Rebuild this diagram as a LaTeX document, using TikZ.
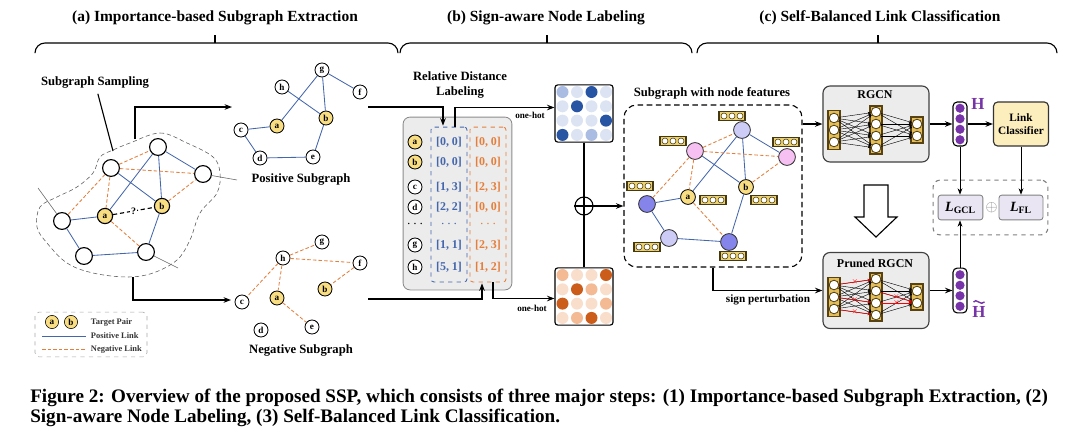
\documentclass[tikz,border=0pt]{standalone}
\usepackage{fontspec}
\setmainfont{Liberation Serif}
\usepackage{graphicx}
\usetikzlibrary{arrows.meta,positioning,calc}
\definecolor{poslink}{RGB}{68,102,172}
\definecolor{neglink}{RGB}{228,126,58}
\definecolor{tgtfill}{RGB}{249,221,130}
\definecolor{panelgray}{RGB}{236,236,236}
\definecolor{layerfill}{RGB}{228,190,88}
\definecolor{layerdraw}{RGB}{88,66,18}
\definecolor{barfill}{RGB}{236,210,110}
\definecolor{bardraw}{RGB}{70,56,16}
\definecolor{hpurple}{RGB}{118,52,168}
\definecolor{lossfill}{RGB}{233,229,243}
\definecolor{clsfill}{RGB}{253,238,190}
\definecolor{bm0}{RGB}{220,227,242}
\definecolor{bm1}{RGB}{170,188,226}
\definecolor{bm2}{RGB}{40,84,164}
\definecolor{om0}{RGB}{250,222,204}
\definecolor{om1}{RGB}{243,186,148}
\definecolor{om2}{RGB}{204,92,26}
\definecolor{ndlight}{RGB}{204,204,246}
\definecolor{ndmid}{RGB}{132,132,234}
\definecolor{ndpink}{RGB}{246,192,242}
\tikzset{fbar/.pic={
  \draw[draw=bardraw,fill=barfill,line width=0.9pt] (-13,-4.5) rectangle (13,4.5);
  \foreach \k in {-8,0,8} \draw[draw=bardraw,fill=white,line width=0.4pt] (\k,0) circle (0.075cm);}}

\begin{document}
\begin{tikzpicture}[x=0.025cm,y=-0.025cm,>={Stealth[scale=0.8]},
  every node/.style={font=\bfseries},
  lbl/.style={font=\bfseries\fontsize{9}{10}\selectfont},
  small/.style={font=\bfseries\fontsize{7}{8}\selectfont},
  gnode/.style={circle,draw,thick,fill=white,minimum size=0.42cm,inner sep=0pt},
  tnode/.style={gnode,minimum size=0.38cm,fill=tgtfill,font=\bfseries\fontsize{6.5}{7}\selectfont},
  snode/.style={circle,draw,semithick,fill=white,minimum size=0.35cm,inner sep=0pt,font=\bfseries\fontsize{6.5}{7}\selectfont},
  stnode/.style={snode,fill=tgtfill},
  fnode/.style={circle,draw=black!80,semithick,minimum size=0.42cm,inner sep=0pt},
  plink/.style={poslink,semithick},
  nlink/.style={neglink,semithick,dash pattern=on 2.5pt off 1.5pt},
  nbox/.style={draw=layerdraw,fill=layerfill,line width=0.9pt,minimum width=0.3cm,inner sep=0pt},
  neuron/.style={circle,draw=layerdraw,fill=white,semithick,minimum size=0.24cm,inner sep=0pt},
  nnlink/.style={-{Stealth[length=2.2pt,width=1.8pt]},line width=0.3pt},
  netbox/.style={draw=black!75,fill=panelgray,thick,rounded corners=5pt,minimum width=2.65cm,minimum height=1.9cm},
  vecbox/.style={draw,thick,fill=white,rounded corners=3pt,minimum width=0.35cm,inner sep=0pt},
  lossbox/.style={draw=gray,fill=lossfill,rounded corners=2pt,semithick,minimum width=1.12cm,minimum height=0.62cm,font=\bfseries\fontsize{10}{10}\selectfont}]
\useasboundingbox (0,0) rectangle (1080,442);

% titles and braces
\node[font=\bfseries\fontsize{11}{12}\selectfont] (tita) at (215,18) {(a) Importance-based Subgraph Extraction};
\node[font=\bfseries\fontsize{11}{12}\selectfont] (titb) at (546,18) {(b) Sign-aware Node Labeling};
\node[font=\bfseries\fontsize{11}{12}\selectfont] (titc) at (880,18) {(c) Self-Balanced Link Classification};
\foreach \xa/\xm/\xb in {35/215/398, 400/547/692, 697/878/1057}{
  \draw[thick,rounded corners=0.25cm] (\xa,53) |- (\xm,43) -| (\xb,53);
  \draw[thick] (\xm,43) -- (\xm,35); }

% (a) sampled graph
\draw[densely dashed,black!65,thin] plot[smooth cycle,tension=0.6] coordinates {(130,143) (160,133) (187,143) (213,157) (220,173) (217,193) (200,213) (190,240) (177,260) (153,273) (127,277) (93,273) (67,263) (47,243) (37,227) (40,207) (57,197) (77,187) (93,173) (100,157) (113,150)};
\node[gnode] (n1) at (158,147) {};
\node[gnode] (n2) at (111,168) {};
\node[gnode] (n3) at (203,174) {};
\node[gnode] (n4) at (62,221) {};
\node[gnode] (n5) at (84,256) {};
\node[gnode] (n6) at (146,252) {};
\node[tnode] (ta) at (105,216) {a};
\node[tnode] (tb) at (162,206) {b};
\coordinate (s1) at (38,188);
\coordinate (s2) at (237,180);
\coordinate (s3) at (178,268);
\draw[black!60] (n4) -- (s1) (n3) -- (s2) (n6) -- (s3);
\draw[plink] (n4) -- (ta) (ta) -- (n1) (n2) -- (tb) (n1) -- (tb) (n1) -- (n3) (tb) -- (n6) (n4) -- (n5) (n5) -- (n6);
\draw[nlink] (n2) -- (n1) (n2) -- (n3) (n2) -- (ta) (n2) -- (n4) (tb) -- (n3) (ta) -- (n6);
\draw[thick,dash pattern=on 3pt off 2pt] (ta) -- node[fill=white,inner sep=0.6pt,font=\bfseries\fontsize{7}{7}\selectfont] (q) {?} (tb);
\node[lbl] (samp) at (95,83) {Subgraph Sampling};
\coordinate (sampend) at (113,151);
\draw[thick] (samp) -- (sampend);
\coordinate (btop) at (135,139);
\coordinate (bbot) at (133,277);
\coordinate (pin0) at (232,107);
\coordinate (nin0) at (231,300);
\draw[->,thick] (btop) |- (pin0);
\draw[->,thick] (bbot) |- (nin0);

% positive subgraph
\node[snode] (pg) at (322,70) {g};
\node[snode] (ph) at (282,87) {h};
\node[snode] (pf) at (360,92) {f};
\node[stnode] (pb) at (326,118) {b};
\node[stnode] (pa) at (277,126) {a};
\node[snode] (pc) at (241,130) {c};
\node[snode] (pd) at (260,158) {d};
\node[snode] (pe) at (313,157) {e};
\draw[plink] (pg) -- (pa) (pg) -- (pb) (pg) -- (pf) (ph) -- (pb) (pc) -- (pa) (pc) -- (pd) (pd) -- (pe) (pe) -- (pb);
\node[lbl] (plab) at (301,180) {Positive Subgraph};

% negative subgraph
\node[snode] (ng) at (322,242) {g};
\node[snode] (nh) at (283,258) {h};
\node[snode] (nf) at (360,263) {f};
\node[stnode] (nb) at (325,289) {b};
\node[stnode] (na) at (277,298) {a};
\node[snode] (nc) at (242,302) {c};
\node[snode] (nd) at (261,330) {d};
\node[snode] (ne) at (312,327) {e};
\draw[nlink] (nh) -- (ng) (nh) -- (nf) (nh) -- (nc) (nh) -- (na) (na) -- (ne) (nf) -- (nb);
\node[lbl] (nlab) at (301,350) {Negative Subgraph};

% legend
\node[draw=black!35,dashed,rounded corners=3pt,minimum width=2.8cm,minimum height=1.12cm] (legend) at (91,334.5) {};
\node[tnode,minimum size=0.33cm,thin] (la) at (52,322) {a};
\node[tnode,minimum size=0.33cm,thin] (lb) at (71,322) {b};
\node[anchor=west,font=\bfseries\fontsize{6}{7}\selectfont,text=black!80] (lt1) at (86,322) {Target Pair};
\node[anchor=west,font=\bfseries\fontsize{6}{7}\selectfont,text=black!80] (lt2) at (86,336) {Positive Link};
\node[anchor=west,font=\bfseries\fontsize{6}{7}\selectfont,text=black!80] (lt3) at (86,349) {Negative Link};
\draw[plink] (42,336) -- (lt2.west);
\draw[nlink] (42,349) -- (lt3.west);

% (b) labeling
\node[lbl,align=center] (rdl) at (460,85) {Relative Distance\\Labeling};
\node[draw=black!45,fill=panelgray,rounded corners=5pt,semithick,minimum width=2.72cm,minimum height=4.32cm] (lpanel) at (457.5,203.5) {};
\node[draw=poslink,dashed,semithick,rounded corners=2pt,minimum width=0.9cm,minimum height=3.87cm] (bcol) at (449,204.5) {};
\node[draw=neglink,dashed,semithick,rounded corners=2pt,minimum width=0.9cm,minimum height=3.87cm] (ocol) at (488,204.5) {};
\foreach \lab/\yy/\bv/\ov/\st in {a/142/{[0, 0]}/{[0, 0]}/stnode, b/162/{[0, 0]}/{[0, 0]}/stnode,
    c/187/{[1, 3]}/{[2, 3]}/snode, d/207/{[2, 2]}/{[0, 0]}/snode,
    g/245/{[1, 1]}/{[2, 3]}/snode, h/267/{[5, 1]}/{[1, 2]}/snode}{
  \node[\st] (rl-\lab) at (415,\yy) {\lab};
  \node[poslink,font=\bfseries\fontsize{8.5}{9}\selectfont] (rb-\lab) at (449,\yy) {\bv};
  \node[neglink,font=\bfseries\fontsize{8.5}{9}\selectfont] (ro-\lab) at (488,\yy) {\ov};
}
\node (rl-dots) at (415,224) {$\cdots$};
\node[poslink] (rb-dots) at (449,224) {$\cdots$};
\node[neglink] (ro-dots) at (488,224) {$\cdots$};

% one-hot matrices
\node[draw,thick,rounded corners=2pt,fill=white,minimum width=1.45cm,minimum height=1.43cm] (bmat) at (584,113.5) {};
\node[draw,thick,rounded corners=2pt,fill=white,minimum width=1.45cm,minimum height=1.43cm] (omat) at (584,296.5) {};
\foreach \row [count=\r] in {{1,0,2,0},{0,2,0,0},{0,0,0,2},{2,0,1,0}}
  \foreach \v [count=\c] in \row
    \fill[bm\v] (548+14.5*\c,77.7+14.3*\r) circle (0.15cm);
\foreach \row [count=\r] in {{1,0,0,2},{0,2,1,0},{2,0,0,1},{0,1,2,0}}
  \foreach \v [count=\c] in \row
    \fill[om\v] (548+14.5*\c,260.7+14.3*\r) circle (0.15cm);
\coordinate (pin) at (368,107);
\coordinate (nin) at (368,299);
\draw[->,thick] (pin) -| ($(bcol.north)+(-6,-1)$);
\draw[->,thick] ($(bcol.north)+(6,0)$) |- ($(bmat.west)+(0,-6)$);
\draw[->,thick] (nin) -| ($(ocol.south)+(-6,1)$);
\draw[->,thick] ($(ocol.south)+(5,0)$) |- ($(omat.west)+(0,2)$);
\node[font=\bfseries\fontsize{6.5}{7}\selectfont] (oh1) at (530,115) {one-hot};
\node[font=\bfseries\fontsize{6.5}{7}\selectfont] (oh2) at (532,308) {one-hot};
\node[circle,draw,thick,fill=white,minimum size=0.45cm,inner sep=0pt] (plus) at (584,206) {};
\draw[thick] (plus.north) -- (plus.south) (plus.west) -- (plus.east);
\draw[thick] (bmat) -- (plus) (omat) -- (plus);

% (c) subgraph with features
\node[lbl] (sgt) at (712,93) {Subgraph with node features};
\node[draw,thick,dash pattern=on 4pt off 2.5pt,rounded corners=9pt,minimum width=4.45cm,minimum height=4.05cm] (sg) at (713,186) {};
\draw[->,thick] (plus) -- (plus -| sg.west);
\node[fnode,fill=ndlight] (sT) at (742,130) {};
\node[fnode,fill=ndpink] (sP) at (695,151) {};
\node[fnode,fill=ndpink] (sQ) at (787,157) {};
\node[fnode,fill=ndmid] (sL) at (647,204) {};
\node[fnode,fill=ndlight] (sM) at (669,238) {};
\node[fnode,fill=ndmid] (sR) at (729,242) {};
\node[snode,fill=tgtfill,minimum size=0.37cm] (sb) at (746,187) {b};
\node[snode,fill=tgtfill,minimum size=0.37cm] (sa) at (688,197) {a};
\draw[plink] (sL) -- (sa) (sa) -- (sT) (sP) -- (sb) (sT) -- (sb) (sT) -- (sQ) (sb) -- (sR) (sL) -- (sM) (sM) -- (sR);
\draw[nlink] (sP) -- (sT) (sP) -- (sQ) (sP) -- (sa) (sP) -- (sL) (sb) -- (sQ) (sa) -- (sR);
\foreach \fx/\fy in {732/116, 673/141, 786/142, 640/186, 713/200, 764/200, 647/247, 733/256}
  \pic at (\fx,\fy) {fbar};

% RGCN and pruned RGCN
\node[netbox] (rgcn) at (876,124) {};
\node[netbox] (pgcn) at (876,290.5) {};
\node[font=\bfseries\fontsize{8.5}{9}\selectfont] (rgcnt) at (875,95) {RGCN};
\node[font=\bfseries\fontsize{8.5}{9}\selectfont] (pgcnt) at (875,263) {Pruned RGCN};
\foreach \nm/\oy in {r/0,p/167}{
  \node[nbox,minimum height=0.98cm] (\nm-L1) at (834,130+\oy) {};
  \node[nbox,minimum height=1.2cm] (\nm-L2) at (876,130+\oy) {};
  \node[nbox,minimum height=0.65cm] (\nm-L3) at (917,130+\oy) {};
  \foreach \i in {1,2,3} \node[neuron] (\nm-a\i) at (834,106+12*\i+\oy) {};
  \foreach \i in {1,...,4} \node[neuron] (\nm-b\i) at (876,100+12*\i+\oy) {};
  \foreach \i in {1,2} \node[neuron] (\nm-c\i) at (917,112+12*\i+\oy) {};
  \foreach \i in {1,2,3} \foreach \j in {1,...,4} \draw[nnlink] (\nm-a\i) -- (\nm-b\j);
  \foreach \j in {1,...,4} \foreach \i in {1,2} \draw[nnlink] (\nm-b\j) -- (\nm-c\i);
}
\foreach \s/\t in {p-a1/p-b1, p-a2/p-b3, p-a3/p-b4, p-b2/p-c2, p-b3/p-c2}
  \draw[nnlink,red,line width=0.4pt] (\s) -- node[red,inner sep=0pt,font=\fontsize{4}{4}\selectfont] {$\times$} (\t);
\draw[->,thick] (rgcn.west -| sg.east) -- (rgcn.west);
\draw[->,thick] (sg.south) |- (pgcn.west);
\node[font=\bfseries\fontsize{8}{9}\selectfont] (spl) at (768,300) {sign perturbation};
\draw[thick,fill=white] (864,185) -- (888,185) -- (888,217) -- (897,217) -- (876,237) -- (855,217) -- (864,217) -- cycle;

% embeddings, classifier, losses
\node[vecbox,minimum height=1.1cm] (hvec) at (960,124) {};
\node[vecbox,minimum height=1.12cm] (htil) at (960,290.5) {};
\foreach \i in {0,...,3}{
  \fill[hpurple] (960,108.25+10.5*\i) circle (0.115cm);
  \fill[hpurple] (960,274.75+10.5*\i) circle (0.115cm); }
\node[hpurple,inner sep=1pt,font=\bfseries\fontsize{12}{12}\selectfont] (hl) at (978,104) {H};
\node[hpurple,inner sep=1pt,font=\bfseries\fontsize{12}{12}\selectfont] (htl) at (979,312) {H};
\draw[hpurple,line width=1pt] (973.5,302) .. controls (976,297.5) and (981,306.5) .. (984.5,302);
\node[draw=black!80,fill=clsfill,thick,rounded corners=3pt,minimum width=1.35cm,minimum height=1.1cm,align=center,font=\bfseries\fontsize{8}{9}\selectfont] (cls) at (1021,124) {Link\\Classifier};
\draw[->,thick] (rgcn) -- (hvec);
\draw[->,thick] (pgcn) -- (htil);
\draw[->,thick] (hvec) -- (cls);
\node[draw=gray,dashed,thick,rounded corners=5pt,minimum width=2.87cm,minimum height=1.37cm] (lbox) at (990.5,207.5) {};
\node[lossbox] (lgcl) at (960.5,207.5) {\textit{L}\textsubscript{GCL}};
\node[lossbox,minimum width=1.1cm] (lfl) at (1021,207.5) {\textit{L}\textsubscript{FL}};
\node[text=gray,inner sep=0pt,font=\fontsize{11}{11}\selectfont] (lplus) at (991.5,207.5) {$\oplus$};
\draw[->,semithick] (hvec) -- (hvec |- lgcl.north);
\draw[->,semithick] (cls) -- (lfl);
\draw[->,semithick] (htil) -- (htil |- lgcl.south);

% caption
\node[anchor=west,inner sep=0pt,font=\bfseries\fontsize{13.6}{15}\selectfont] (cap1) at (30,398) {Figure 2: Overview of the proposed SSP, which consists of three major steps: (1) Importance-based Subgraph Extraction, (2)};
\node[anchor=west,inner sep=0pt,font=\bfseries\fontsize{13.6}{15}\selectfont] (cap2) at (30,418) {Sign-aware Node Labeling, (3) Self-Balanced Link Classification.};
\end{tikzpicture}
\end{document}
